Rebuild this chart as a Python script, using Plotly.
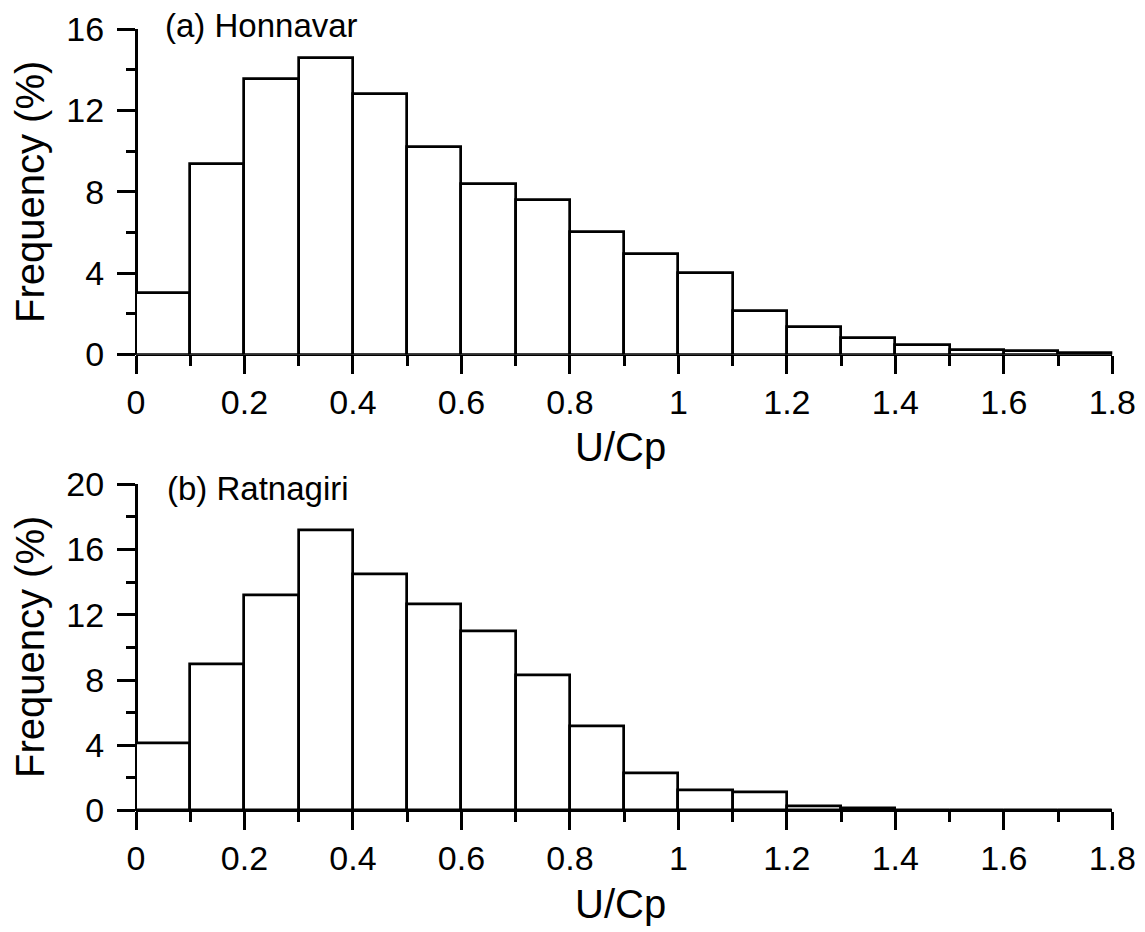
import plotly.graph_objects as go

W, H = 1145, 932

bin_centers = [0.05, 0.15, 0.25, 0.35, 0.45, 0.55, 0.65, 0.75, 0.85, 0.95,
               1.05, 1.15, 1.25, 1.35, 1.45, 1.55, 1.65, 1.75]
honnavar = [3.0, 9.37, 13.53, 14.58, 12.81, 10.19, 8.37, 7.61, 6.04, 4.94,
            4.01, 2.15, 1.35, 0.83, 0.47, 0.24, 0.15, 0.08]
ratnagiri = [4.09, 8.97, 13.17, 17.16, 14.48, 12.65, 10.96, 8.26, 5.18, 2.28,
             1.26, 1.09, 0.28, 0.12, 0.0, 0.0, 0.0, 0.0]

x_tickvals = [0, 0.2, 0.4, 0.6, 0.8, 1.0, 1.2, 1.4, 1.6, 1.8]
x_ticktext = ["0", "0.2", "0.4", "0.6", "0.8", "1", "1.2", "1.4", "1.6", "1.8"]
y1_tickvals = [0, 4, 8, 12, 16]
y2_tickvals = [0, 4, 8, 12, 16, 20]

FONT = "Arial, 'Liberation Sans', sans-serif"
LW = 2.7

def px_x(p):
    return p / W

def px_y(p):
    return 1 - p / H

fig = go.Figure()

for vals, xa, ya in [(honnavar, "x", "y"), (ratnagiri, "x2", "y2")]:
    fig.add_trace(go.Bar(
        x=bin_centers, y=vals, width=0.1,
        marker=dict(color="white", line=dict(color="black", width=LW)),
        xaxis=xa, yaxis=ya, cliponaxis=False, showlegend=False,
        hoverinfo="skip",
    ))

xdom = [px_x(136), px_x(1112.3)]
common_x = dict(
    range=[0, 1.8], domain=xdom, showline=False,
    zeroline=True, zerolinecolor="black", zerolinewidth=LW,
    ticks="outside", ticklen=18, tickwidth=LW, tickcolor="black",
    tickvals=x_tickvals, ticktext=x_ticktext,
    tickfont=dict(family=FONT, size=34, color="black"),
    minor=dict(dtick=0.1, tick0=0, ticks="outside", ticklen=10, tickwidth=LW, tickcolor="black"),
    showgrid=False, automargin=False, fixedrange=True,
)
common_y = dict(
    showline=False,
    zeroline=True, zerolinecolor="black", zerolinewidth=LW,
    ticks="outside", ticklen=18, tickwidth=LW, tickcolor="black",
    tickfont=dict(family=FONT, size=34, color="black"),
    ticklabelstandoff=6,
    showgrid=False, automargin=False, fixedrange=True,
)

fig.update_layout(
    width=W, height=H,
    margin=dict(l=0, r=0, t=0, b=0),
    paper_bgcolor="white", plot_bgcolor="white",
    bargap=0,
    xaxis=dict(anchor="y", **common_x),
    xaxis2=dict(anchor="y2", **common_x),
    yaxis=dict(anchor="x", range=[0, 16], domain=[px_y(354.5), px_y(29)],
               tickvals=y1_tickvals,
               minor=dict(dtick=2, tick0=0, ticks="outside", ticklen=9, tickwidth=LW, tickcolor="black"),
               **common_y),
    yaxis2=dict(anchor="x2", range=[0, 20], domain=[px_y(810.5), px_y(484.3)],
                tickvals=y2_tickvals,
                minor=dict(dtick=2, tick0=0, ticks="outside", ticklen=9, tickwidth=LW, tickcolor="black"),
                **common_y),
)

ann_font = dict(family=FONT, size=33, color="black")
title_font = dict(family=FONT, size=40, color="black")
annotations = [
    dict(text="(a) Honnavar", x=px_x(163), y=px_y(25), xanchor="left", yanchor="middle", font=ann_font),
    dict(text="(b) Ratnagiri", x=px_x(165), y=px_y(488), xanchor="left", yanchor="middle", font=ann_font),
    dict(text="U/Cp", x=px_x(620), y=px_y(447), xanchor="center", yanchor="middle", font=title_font),
    dict(text="U/Cp", x=px_x(620), y=px_y(904), xanchor="center", yanchor="middle", font=title_font),
    dict(text="Frequency (%)", x=px_x(30), y=px_y(192), xanchor="center", yanchor="middle",
         textangle=-90, font=title_font),
    dict(text="Frequency (%)", x=px_x(30), y=px_y(647), xanchor="center", yanchor="middle",
         textangle=-90, font=title_font),
]
for a in annotations:
    a.update(xref="paper", yref="paper", showarrow=False)
fig.update_layout(annotations=annotations)

fig.write_html("out.html")
